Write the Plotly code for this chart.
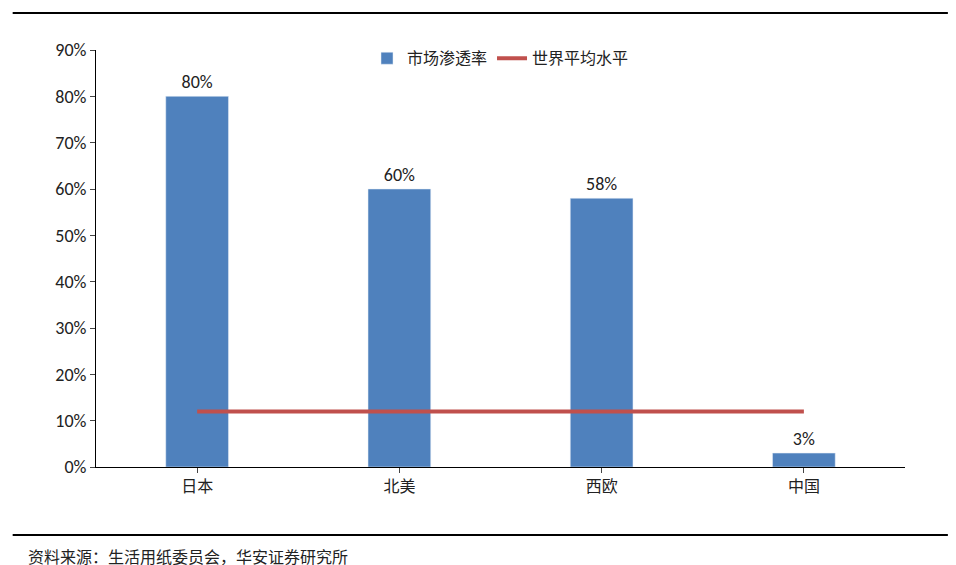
import plotly.graph_objects as go

categories = ["日本", "北美", "西欧", "中国"]
penetration = [80, 60, 58, 3]
world_avg = [12, 12, 12, 12]
labels = ["80%", "60%", "58%", "3%"]

fig = go.Figure()
fig.add_trace(go.Bar(
    x=categories, y=penetration, name="市场渗透率",
    marker_color="#4f81bd", width=0.31,
    text=labels, textposition="outside",
    textfont=dict(family="Carlito, Calibri, Liberation Sans", size=18, color="#222"), cliponaxis=False,
))
fig.add_trace(go.Scatter(
    x=categories, y=world_avg, name="世界平均水平", mode="lines",
    line=dict(color="#c0504d", width=4),
))

fig.update_layout(
    width=956, height=565,
    paper_bgcolor="white", plot_bgcolor="white",
    font=dict(family="Noto Sans CJK SC", size=15, color="#222"),
    margin=dict(l=88, r=59, t=42, b=106, autoexpand=False),
    showlegend=True,
    legend=dict(orientation="h", x=0.5, y=0.98, xanchor="center", yanchor="middle",
                font=dict(size=16), bgcolor="rgba(0,0,0,0)"),
    shapes=[
        dict(type="line", xref="paper", yref="paper", x0=-0.103, x1=1.053, y0=1.089, y1=1.089,
             line=dict(color="black", width=2)),
        dict(type="line", xref="paper", yref="paper", x0=-0.103, x1=1.053, y0=-0.163, y1=-0.163,
             line=dict(color="black", width=2)),
    ],
    annotations=[dict(text="资料来源：生活用纸委员会，华安证券研究所", xref="paper", yref="paper",
                      x=-0.087, y=-0.213, xanchor="left", yanchor="middle", showarrow=False,
                      font=dict(size=16, color="#222"))],
)
fig.update_yaxes(range=[0, 90], dtick=10, ticksuffix="%", showgrid=False,
                 showline=True, linecolor="black", ticks="outside", ticklen=5,
                 tickfont=dict(family="Carlito, Calibri, Liberation Sans", size=18))
fig.update_xaxes(showline=True, linecolor="black", ticks="outside", ticklen=5,
                 tickfont=dict(size=16))

fig.write_html("out.html")
